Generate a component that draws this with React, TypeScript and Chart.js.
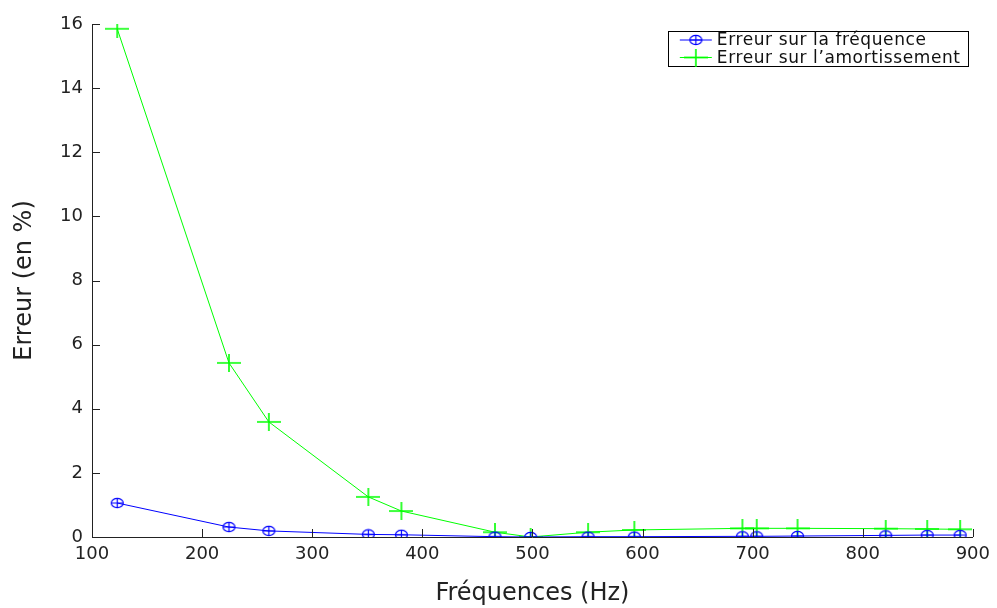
import React, { useEffect, useRef } from "react";
import { Chart, registerables } from "chart.js";

Chart.register(...registerables);

const frequencies = [122.9, 224.4, 260.6, 351, 381, 466, 498.4, 550.6, 592.6, 690.7, 703.7, 740.8, 820.9, 858.6, 888.5];
const errFrequence = [1.06, 0.31, 0.19, 0.08, 0.07, 0.01, 0.0, 0.01, 0.01, 0.02, 0.02, 0.03, 0.05, 0.06, 0.06];
const errAmortissement = [15.85, 5.43, 3.59, 1.25, 0.81, 0.15, 0.0, 0.15, 0.22, 0.27, 0.27, 0.27, 0.26, 0.25, 0.24];
const seriesLabels = ["Erreur sur la fréquence", "Erreur sur l\u2019amortissement"];
const xTitle = "Fréquences (Hz)";
const yTitle = "Erreur (en %)";

const FONT = "'DejaVu Sans', sans-serif";

function makeCircleMarker(): HTMLCanvasElement {
  const c = document.createElement("canvas");
  c.width = 15;
  c.height = 12;
  const ctx = c.getContext("2d")!;
  ctx.strokeStyle = "#0000ff";
  ctx.lineWidth = 1.2;
  ctx.beginPath();
  ctx.ellipse(7.5, 6, 6, 4.6, 0, 0, Math.PI * 2);
  ctx.stroke();
  ctx.beginPath();
  ctx.moveTo(1.5, 6);
  ctx.lineTo(13.5, 6);
  ctx.moveTo(7.5, 1.4);
  ctx.lineTo(7.5, 10.6);
  ctx.stroke();
  return c;
}

function makePlusMarker(): HTMLCanvasElement {
  const c = document.createElement("canvas");
  c.width = 24;
  c.height = 18;
  const ctx = c.getContext("2d")!;
  ctx.strokeStyle = "#00ff00";
  ctx.lineWidth = 1.6;
  ctx.beginPath();
  ctx.moveTo(0, 9);
  ctx.lineTo(24, 9);
  ctx.moveTo(12, 0);
  ctx.lineTo(12, 18);
  ctx.stroke();
  return c;
}

export default function App() {
  const ref = useRef<HTMLCanvasElement | null>(null);

  useEffect(() => {
    if (!ref.current) return;
    const circle = makeCircleMarker();
    const plus = makePlusMarker();
    const markers = [circle, plus];

    const insideTicks = {
      id: "insideTicks",
      afterDraw(chart: any) {
        const ctx = chart.ctx;
        const { x, y } = chart.scales;
        const area = chart.chartArea;
        ctx.save();
        ctx.strokeStyle = "#222";
        ctx.lineWidth = 1;
        ctx.beginPath();
        x.ticks.forEach((t: any) => {
          const px = Math.round(x.getPixelForValue(t.value)) + 0.5;
          ctx.moveTo(px, area.bottom);
          ctx.lineTo(px, area.bottom - 8);
        });
        y.ticks.forEach((t: any) => {
          const py = Math.round(y.getPixelForValue(t.value)) + 0.5;
          ctx.moveTo(area.left, py);
          ctx.lineTo(area.left + 8, py);
        });
        ctx.stroke();
        ctx.restore();
      },
    };

    const boxLegend = {
      id: "boxLegend",
      afterDraw(chart: any) {
        const ctx = chart.ctx;
        const area = chart.chartArea;
        const w = 300;
        const h = 35;
        const left = area.right - 305;
        const top = area.top + 7;
        ctx.save();
        ctx.fillStyle = "#fff";
        ctx.fillRect(left, top, w, h);
        ctx.strokeStyle = "#000";
        ctx.lineWidth = 1;
        ctx.strokeRect(Math.round(left) + 0.5, Math.round(top) + 0.5, w, h);
        ctx.font = "17px " + FONT;
        (ctx as any).letterSpacing = "0.6px";
        ctx.textBaseline = "middle";
        ctx.textAlign = "left";
        chart.data.datasets.forEach((ds: any, i: number) => {
          const rowY = top + 9 + i * 17.5;
          ctx.strokeStyle = ds.borderColor;
          ctx.lineWidth = 1;
          ctx.beginPath();
          ctx.moveTo(left + 12, rowY);
          ctx.lineTo(left + 44, rowY);
          ctx.stroke();
          const m = markers[i];
          ctx.drawImage(m, left + 28 - m.width / 2, rowY - m.height / 2);
          ctx.fillStyle = "#111";
          ctx.fillText(ds.label, left + 49, rowY + 1);
        });
        ctx.restore();
      },
    };

    const chart = new Chart(ref.current, {
      type: "line",
      data: {
        datasets: [
          {
            label: seriesLabels[0],
            data: frequencies.map((f, i) => ({ x: f, y: errFrequence[i] })),
            borderColor: "#0000ff",
            borderWidth: 1,
            pointStyle: circle,
            pointRadius: 6,
            tension: 0,
            fill: false,
          },
          {
            label: seriesLabels[1],
            data: frequencies.map((f, i) => ({ x: f, y: errAmortissement[i] })),
            borderColor: "#00ff00",
            borderWidth: 1,
            pointStyle: plus,
            pointRadius: 10,
            tension: 0,
            fill: false,
          },
        ],
      },
      options: {
        animation: false,
        responsive: true,
        maintainAspectRatio: false,
        layout: { padding: { top: 24, right: 22, left: 0, bottom: 0 } },
        plugins: {
          legend: { display: false },
          tooltip: { enabled: false },
        },
        scales: {
          x: {
            type: "linear",
            min: 100,
            max: 900,
            afterFit(scale: any) {
              scale.height = 71;
            },
            ticks: {
              stepSize: 100,
              padding: 7,
              color: "#222",
              font: { family: FONT, size: 18 },
              maxRotation: 0,
            },
            grid: { drawOnChartArea: false, drawTicks: false },
            border: { color: "#222", width: 1 },
            title: {
              display: true,
              text: xTitle,
              color: "#222",
              font: { family: FONT, size: 24 },
              padding: { top: 0, bottom: 0 },
            },
          },
          y: {
            type: "linear",
            min: 0,
            max: 16,
            afterFit(scale: any) {
              scale.width = 92;
            },
            ticks: {
              stepSize: 2,
              padding: 9,
              color: "#222",
              font: { family: FONT, size: 18 },
            },
            grid: { drawOnChartArea: false, drawTicks: false },
            border: { color: "#222", width: 1 },
            title: {
              display: true,
              text: yTitle,
              color: "#222",
              font: { family: FONT, size: 24 },
              padding: { top: 10, bottom: 0 },
            },
          },
        },
      },
      plugins: [insideTicks, boxLegend],
    });

    return () => chart.destroy();
  }, []);

  return (
    <div style={{ position: "absolute", left: 0, top: 0, width: 997, height: 608, background: "#fff" }}>
      <canvas ref={ref} />
    </div>
  );
}
